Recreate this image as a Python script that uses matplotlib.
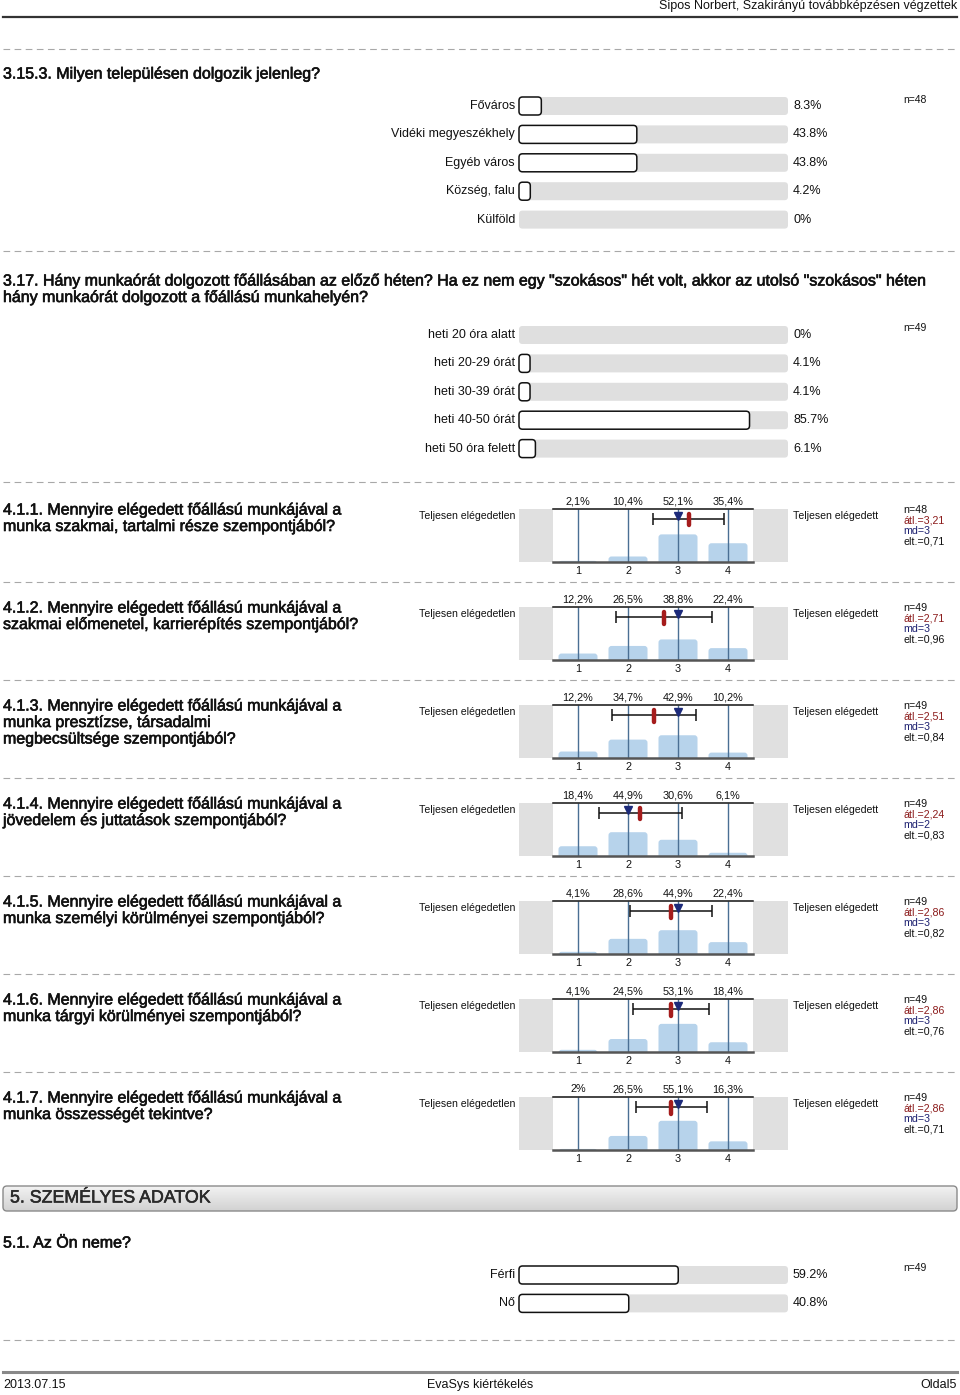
import numpy as np
import matplotlib
matplotlib.use('Agg')
import matplotlib.pyplot as plt
from matplotlib.patches import FancyBboxPatch, Rectangle
from matplotlib import font_manager as fm
import matplotlib.patheffects as pe

# ---------------- data ----------------
header_text = "Sipos Norbert, Szakirányú továbbképzésen végzettek"
footer_left = "2013.07.15"
footer_center = "EvaSys kiértékelés"
footer_right = "Oldal5"

q1_title = ["3.15.3. Milyen településen dolgozik jelenleg?"]
q1_labels = ["Főváros", "Vidéki megyeszékhely", "Egyéb város", "Község, falu", "Külföld"]
q1_values = [8.3, 43.8, 43.8, 4.2, 0]
q1_n = 48

q2_title = ['3.17. Hány munkaórát dolgozott főállásában az előző héten? Ha ez nem egy "szokásos" hét volt, akkor az utolsó "szokásos" héten',
            'hány munkaórát dolgozott a főállású munkahelyén?']
q2_labels = ["heti 20 óra alatt", "heti 20-29 órát", "heti 30-39 órát", "heti 40-50 órát", "heti 50 óra felett"]
q2_values = [0, 4.1, 4.1, 85.7, 6.1]
q2_n = 49

scale_left = "Teljesen elégedetlen"
scale_right = "Teljesen elégedett"
scale_ticks = [1, 2, 3, 4]

hist_titles = [
    ["4.1.1. Mennyire elégedett főállású munkájával a", "munka szakmai, tartalmi része szempontjából?"],
    ["4.1.2. Mennyire elégedett főállású munkájával a", "szakmai előmenetel, karrierépítés szempontjából?"],
    ["4.1.3. Mennyire elégedett főállású munkájával a", "munka presztízse, társadalmi", "megbecsültsége szempontjából?"],
    ["4.1.4. Mennyire elégedett főállású munkájával a", "jövedelem és juttatások szempontjából?"],
    ["4.1.5. Mennyire elégedett főállású munkájával a", "munka személyi körülményei szempontjából?"],
    ["4.1.6. Mennyire elégedett főállású munkájával a", "munka tárgyi körülményei szempontjából?"],
    ["4.1.7. Mennyire elégedett főállású munkájával a", "munka összességét tekintve?"],
]
hist_pcts = [
    [2.1, 10.4, 52.1, 35.4],
    [12.2, 26.5, 38.8, 22.4],
    [12.2, 34.7, 42.9, 10.2],
    [18.4, 44.9, 30.6, 6.1],
    [4.1, 28.6, 44.9, 22.4],
    [4.1, 24.5, 53.1, 18.4],
    [2.0, 26.5, 55.1, 16.3],
]
hist_n = [48, 49, 49, 49, 49, 49, 49]
hist_mean = [3.21, 2.71, 2.51, 2.24, 2.86, 2.86, 2.86]
hist_md = [3, 3, 3, 2, 3, 3, 3]
hist_sd = [0.71, 0.96, 0.84, 0.83, 0.82, 0.76, 0.71]

section_title = "5. SZEMÉLYES ADATOK"
q3_title = ["5.1. Az Ön neme?"]
q3_labels = ["Férfi", "Nő"]
q3_values = [59.2, 40.8]
q3_n = 49

# ---------------- setup ----------------
names = {f.name for f in fm.fontManager.ttflist}
SANS = 'Liberation Sans' if 'Liberation Sans' in names else 'DejaVu Sans'
NARROW = 'Liberation Sans Narrow' if 'Liberation Sans Narrow' in names else SANS
plt.rcParams['font.family'] = [SANS, 'DejaVu Sans']

W, H = 960, 1395
fig = plt.figure(figsize=(W / 100, H / 100), dpi=100)
bg = fig.add_axes([0, 0, 1, 1])
bg.set_xlim(0, W)
bg.set_ylim(H, 0)
bg.axis('off')

TITLE_FX = [pe.withStroke(linewidth=0.45, foreground='#111111')]


def pax(x0, y0, x1, y1):
    return fig.add_axes([x0 / W, 1 - y1 / H, (x1 - x0) / W, (y1 - y0) / H])


def dashed(y):
    bg.plot([3, 957], [y, y], color='#a8a8a8', lw=0.8, dashes=(6, 4))


def title(lines, y0, step=16.5):
    for i, t in enumerate(lines):
        bg.text(3, y0 + i * step, t, fontsize=11.5, ha='left', va='center', color='#111111',
                path_effects=TITLE_FX)


def fmt_hu(v):
    return ('%g' % v).replace('.', ',')


TRACK_X0, TRACK_X1 = 519, 788


def hbar_block(labels, values, y_first, spacing, n, n_y):
    k = len(labels)
    top = y_first - spacing / 2
    bot = y_first + spacing * (k - 0.5)
    ax = pax(TRACK_X0, top, TRACK_X1, bot)
    ax.set_xlim(0, 100)
    ax.set_ylim(k - 0.5, -0.5)
    ax.axis('off')
    pos = np.arange(k)
    hgt = 18 / spacing
    pxx = (TRACK_X1 - TRACK_X0) / 100.0
    pxy = spacing
    r = 3.5
    track = ax.barh(pos, [100] * k, height=hgt, color='#dfdfdf')
    bars = ax.barh(pos, values, height=hgt, color='white', edgecolor='#111111')
    for b, is_val in [(b, False) for b in track] + [(b, True) for b in bars]:
        x, y, w, h = b.get_x(), b.get_y(), b.get_width(), b.get_height()
        b.set_visible(False)
        if w <= 0:
            continue
        p = FancyBboxPatch((x, y), w, h,
                           boxstyle="round,pad=0,rounding_size=%f" % (r / pxx),
                           mutation_aspect=pxx / pxy,
                           fc='white' if is_val else '#dfdfdf',
                           ec='#111111' if is_val else 'none',
                           lw=1.1 if is_val else 0, clip_on=False, zorder=3 if is_val else 2)
        ax.add_patch(p)
    for i, (lab, v) in enumerate(zip(labels, values)):
        ax.text(-4 / pxx, i, lab, ha='right', va='center', fontsize=9, color='#111111')
        ax.text(100 + 5 / pxx, i, '%g%%' % v, ha='left', va='center', fontsize=9, color='#111111')
    bg.text(903, n_y, 'n=%d' % n, ha='left', va='center', fontsize=7.5, color='#111111')


PLOT_X0, PLOT_X1 = 553, 753
BAR_COLOR = '#b7d3eb'


def hist_block(k, y_title):
    top = y_title - 1
    bot = top + 53
    # side gray boxes
    bg.add_patch(Rectangle((TRACK_X0, top), PLOT_X0 - TRACK_X0, bot - top, fc='#e0e0e0', ec='none'))
    bg.add_patch(Rectangle((PLOT_X1, top), TRACK_X1 - PLOT_X1, bot - top, fc='#e0e0e0', ec='none'))
    ax = pax(PLOT_X0, top, PLOT_X1, bot)
    ax.set_xlim(0.5, 4.5)
    ax.set_ylim(0, 100)
    ax.axis('off')
    pct = hist_pcts[k]
    pxx = (PLOT_X1 - PLOT_X0) / 4.0
    pxy = (bot - top) / 100.0
    bars = ax.bar(scale_ticks, pct, width=0.78, color=BAR_COLOR)
    r = 3.0
    for b in bars:
        x, y, w, h = b.get_x(), b.get_y(), b.get_width(), b.get_height()
        b.set_visible(False)
        p = FancyBboxPatch((x, y - 10), w, h + 10,
                           boxstyle="round,pad=0,rounding_size=%f" % (r / pxx),
                           mutation_aspect=pxx / pxy, fc=BAR_COLOR, ec='none', zorder=1)
        ax.add_patch(p)
    ax.vlines(scale_ticks, 0, 100, color='#4a6f94', lw=1.0, zorder=2)
    ax.axhline(100, color='#111111', lw=1.1, zorder=3, clip_on=False)
    ax.axhline(0, color='#555555', lw=1.8, zorder=3, clip_on=False)
    ey = 100 - 10 / pxy
    m, sd, md = hist_mean[k], hist_sd[k], hist_md[k]
    ax.errorbar([m], [ey], xerr=[sd], fmt='none', ecolor='#111111', elinewidth=1.1,
                capsize=4.5, capthick=1.1, zorder=4)
    ax.plot([m, m], [100 - 5 / pxy, 100 - 16.5 / pxy], color='#a51c1c', lw=3.2,
            solid_capstyle='round', zorder=5, clip_on=False)
    ax.plot([md], [100 - 6.8 / pxy], marker='v', color='#1c2a7a', markersize=5.8,
            linestyle='none', zorder=6, clip_on=False)
    for c, v in zip(scale_ticks, pct):
        ax.text(c, 100 + 7.5 / pxy, fmt_hu(v) + '%', ha='center', va='center', fontsize=7.8,
                color='#111111')
        ax.text(c, -9 / pxy, str(c), ha='center', va='center', fontsize=7.8, color='#111111')
    # anchors
    bg.text(515, top + 7, scale_left, ha='right', va='center', fontsize=7.6, color='#111111')
    bg.text(793, top + 7, scale_right, ha='left', va='center', fontsize=7.6, color='#111111')
    stats = [('n=%d' % hist_n[k], '#111111'),
             ('átl.=%s' % ('%.2f' % m).replace('.', ','), '#8b1a1a'),
             ('md=%d' % md, '#1c2070'),
             ('elt.=%s' % ('%.2f' % sd).replace('.', ','), '#111111')]
    for i, (t, c) in enumerate(stats):
        bg.text(903, top + 1 + i * 10.6, t, ha='left', va='center', fontsize=7.7, color=c)
    for i, t in enumerate(hist_titles[k]):
        bg.text(3, y_title + i * 16.5, t, fontsize=11.5, ha='left', va='center', color='#111111',
                path_effects=TITLE_FX)


# ---------------- header ----------------
bg.text(957, 6, header_text, ha='right', va='center', fontsize=9, family=[NARROW, SANS], color='#111111')
bg.plot([3, 957], [17, 17], color='#333333', lw=1.6)

dashed(49)
title(q1_title, 74)
hbar_block(q1_labels, q1_values, 106, 28.4, q1_n, 100)

dashed(251)
title(q2_title, 281)
hbar_block(q2_labels, q2_values, 335, 28.4, q2_n, 328)

dashed(482)
for k in range(len(hist_titles)):
    hist_block(k, 510 + 98 * k)
    if k < len(hist_titles) - 1:
        dashed(582 + 98 * k)

# ---------------- section header ----------------
sx0, sy0, sx1, sy1 = 3, 1186, 957, 1211
grad = np.linspace(0, 1, 64).reshape(-1, 1)
box = FancyBboxPatch((sx0, sy0), sx1 - sx0, sy1 - sy0, boxstyle="round,pad=0,rounding_size=4",
                     fc='none', ec='#8a8a8a', lw=1.0, zorder=3)
bg.add_patch(box)
im = bg.imshow(grad, extent=(sx0, sx1, sy1, sy0), cmap=matplotlib.colors.LinearSegmentedColormap.from_list(
    'g', ['#f2f2f2', '#d2d2d2']), aspect='auto', zorder=2)
im.set_clip_path(box)
bg.set_xlim(0, W)
bg.set_ylim(H, 0)
bg.text(10, 1198, section_title, ha='left', va='center', fontsize=12.8, family=[NARROW, SANS],
        color='#2a2a2a', zorder=4, path_effects=[pe.withStroke(linewidth=0.4, foreground='#2a2a2a')])

title(q3_title, 1243)
hbar_block(q3_labels, q3_values, 1275, 28.4, q3_n, 1268)

dashed(1340)

# ---------------- footer ----------------
bg.plot([3, 957], [1372, 1372], color='#888888', lw=2.2)
bg.text(3, 1385, footer_left, ha='left', va='center', fontsize=9, family=[NARROW, SANS], color='#111111')
bg.text(480, 1385, footer_center, ha='center', va='center', fontsize=9, family=[NARROW, SANS], color='#111111')
bg.text(957, 1385, footer_right, ha='right', va='center', fontsize=9, family=[NARROW, SANS], color='#111111')

fig.savefig('out.png', dpi=100)
